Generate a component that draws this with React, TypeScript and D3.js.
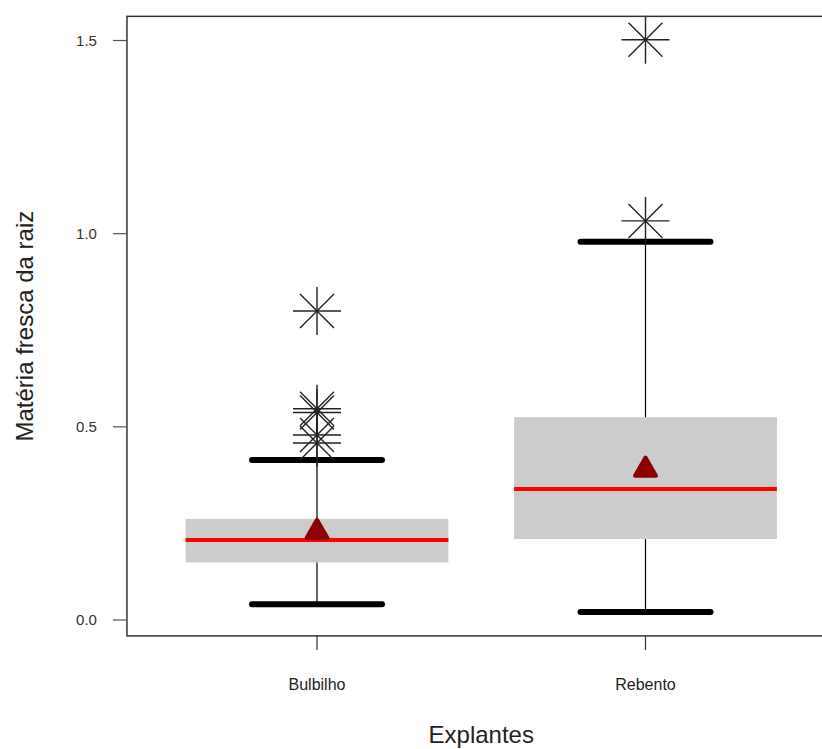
import React from "react";
import * as d3 from "d3";

const categories = ["Bulbilho", "Rebento"];
const q1 = [0.149, 0.2097];
const medians = [0.207, 0.339];
const q3 = [0.2615, 0.525];
const whiskerLow = [0.0406, 0.0207];
const whiskerHigh = [0.414, 0.979];
const means = [0.228, 0.389];
const outliers: number[][] = [
  [0.8, 0.547, 0.537, 0.479, 0.458],
  [1.502, 1.033],
];
const yTicks = [0.0, 0.5, 1.0, 1.5];

const W = 822;
const H = 749;
const FONT = "'Liberation Sans', Arial, sans-serif";

export default function App() {
  const x = d3.scaleLinear().domain([1, 2]).range([317, 645.5]);
  const y = d3.scaleLinear().domain([0, 1.5]).range([620, 40.5]);
  const frameLeft = x(0.4215);
  const frameRight = x(2.5785);
  const frameTop = y(1.5625);
  const frameBottom = y(-0.0412);
  const boxHalf = (x(2) - x(1)) * 0.4;
  const capHalf = (x(2) - x(1)) * 0.207;
  const r = 24;
  const d = r / Math.SQRT2;

  const asterisk = (cx: number, cy: number, key: string) => (
    <g key={key} stroke="#222" strokeWidth={1.4}>
      <line x1={cx - r} y1={cy} x2={cx + r} y2={cy} />
      <line x1={cx} y1={cy - r} x2={cx} y2={cy + r} />
      <line x1={cx - d} y1={cy - d} x2={cx + d} y2={cy + d} />
      <line x1={cx - d} y1={cy + d} x2={cx + d} y2={cy - d} />
    </g>
  );

  const tri = d3.symbol().type(d3.symbolTriangle).size(190);

  return (
    <svg width={W} height={H} style={{ display: "block", position: "absolute", left: 0, top: 0 }} fontFamily={FONT}>
      <rect x={0} y={0} width={W} height={H} fill="#fff" />
      {categories.map((c, i) => {
        const cx = x(i + 1);
        return (
          <g key={c}>
            <rect
              x={cx - boxHalf}
              y={y(q3[i])}
              width={boxHalf * 2}
              height={y(q1[i]) - y(q3[i])}
              fill="#CCCCCC"
            />
            <line x1={cx} x2={cx} y1={y(q3[i])} y2={y(whiskerHigh[i])} stroke="#000" strokeWidth={1.2} />
            <line x1={cx} x2={cx} y1={y(q1[i])} y2={y(whiskerLow[i])} stroke="#000" strokeWidth={1.2} />
            <line
              x1={cx - boxHalf}
              x2={cx + boxHalf}
              y1={y(medians[i])}
              y2={y(medians[i])}
              stroke="#FF0000"
              strokeWidth={4}
            />
            {[whiskerLow[i], whiskerHigh[i]].map((v, k) => (
              <line
                key={k}
                x1={cx - capHalf + 3}
                x2={cx + capHalf - 3}
                y1={y(v)}
                y2={y(v)}
                stroke="#000"
                strokeWidth={6}
                strokeLinecap="round"
              />
            ))}
            {outliers[i].map((v, k) => asterisk(cx, y(v), `${c}-${k}`))}
            <path
              d={tri() as string}
              transform={`translate(${cx},${y(means[i])})`}
              fill="#8B0000"
              stroke="#8B0000"
              strokeWidth={4}
              strokeLinejoin="round"
            />
            <line x1={cx} x2={cx} y1={frameBottom} y2={frameBottom + 14} stroke="#333" strokeWidth={1.2} />
            <text x={cx} y={690} textAnchor="middle" fontSize={16} fill="#222">
              {c}
            </text>
          </g>
        );
      })}
      <rect
        x={frameLeft}
        y={frameTop}
        width={frameRight - frameLeft}
        height={frameBottom - frameTop}
        fill="none"
        stroke="#333"
        strokeWidth={1.5}
      />
      {yTicks.map((t) => (
        <g key={t}>
          <line x1={frameLeft - 14} x2={frameLeft} y1={y(t)} y2={y(t)} stroke="#555" strokeWidth={1.2} />
          <text x={frameLeft - 30} y={y(t) + 5} textAnchor="end" fontSize={15} fill="#333">
            {t.toFixed(1)}
          </text>
        </g>
      ))}
      <text
        transform={`translate(33,${(frameTop + frameBottom) / 2}) rotate(-90)`}
        textAnchor="middle"
        fontSize={24}
        fill="#222"
      >
        Matéria fresca da raiz
      </text>
      <text x={(frameLeft + frameRight) / 2} y={743} textAnchor="middle" fontSize={24} fill="#222">
        Explantes
      </text>
    </svg>
  );
}
